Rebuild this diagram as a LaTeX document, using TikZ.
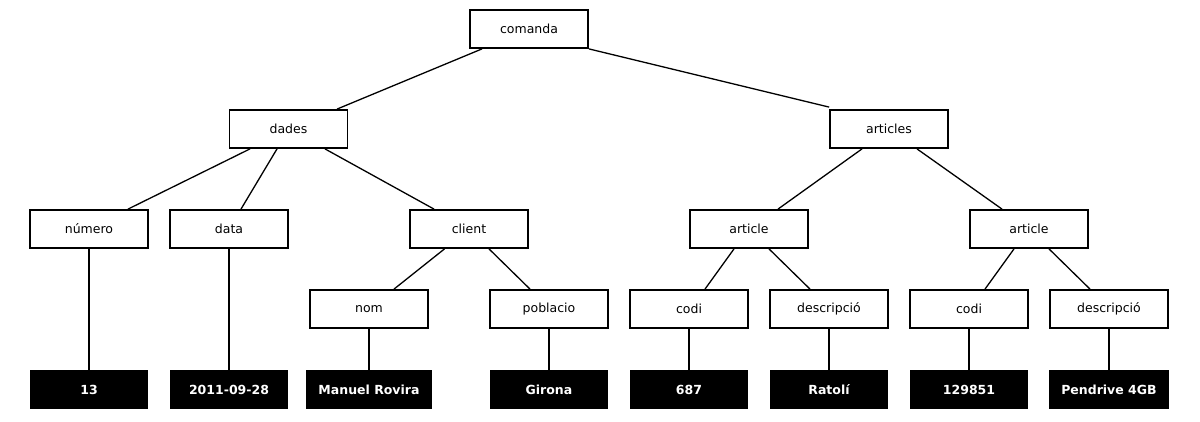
\documentclass[tikz,border=0pt]{standalone}
\usepackage{fontspec}
\setmainfont{DejaVu Sans}
\begin{document}
\begin{tikzpicture}[x=1pt,y=-1pt,
  elem/.style={draw=black,line width=1.8pt,fill=white,minimum width=118pt,minimum height=38pt,inner sep=0pt,font=\fontsize{12.5}{14}\selectfont},
  val/.style={fill=black,text=white,minimum width=118pt,minimum height=39pt,inner xsep=12.5pt,inner ysep=4pt,font=\bfseries\fontsize{12.5}{14}\selectfont},
  edge/.style={line width=1.3pt}]
\useasboundingbox (0,0) rectangle (1200,422);
% nodes
\node[elem] (comanda) at (529,29) {comanda};
\node[elem] (dades) at (288.5,129) {dades};
\node[elem] (articles) at (889,129) {articles};
\node[elem] (numero) at (89,229) {número};
\node[elem] (data) at (229,229) {data};
\node[elem] (client) at (469,229) {client};
\node[elem] (articleA) at (749,229) {article};
\node[elem] (articleB) at (1029,229) {article};
\node[elem] (nom) at (369,309) {nom};
\node[elem] (poblacio) at (549,309) {poblacio};
\node[elem] (codiA) at (689,309) {codi};
\node[elem] (descA) at (829,309) {descripció};
\node[elem] (codiB) at (969,309) {codi};
\node[elem] (descB) at (1109,309) {descripció};
\node[val] (v13) at (89,389.5) {13};
\node[val] (vdata) at (229,389.5) {2011-09-28};
\node[val] (vnom) at (369,389.5) {Manuel Rovira};
\node[val] (vpob) at (549,389.5) {Girona};
\node[val] (vcodiA) at (689,389.5) {687};
\node[val] (vdescA) at (829,389.5) {Ratolí};
\node[val] (vcodiB) at (969,389.5) {129851};
\node[val] (vdescB) at (1109,389.5) {Pendrive 4GB};
% edges
\draw[edge] ([xshift=-47pt]comanda.south) -- ([xshift=48.5pt]dades.north);
\draw[edge] (comanda.south east) -- ([yshift=2pt]articles.north west);
\draw[edge] ([xshift=-38.5pt]dades.south) -- ([xshift=39pt]numero.north);
\draw[edge] ([xshift=-11.5pt]dades.south) -- ([xshift=12pt]data.north);
\draw[edge] ([xshift=36.5pt]dades.south) -- ([xshift=-35pt]client.north);
\draw[edge] ([xshift=-27pt]articles.south) -- ([xshift=29pt]articleA.north);
\draw[edge] ([xshift=28pt]articles.south) -- ([xshift=-27pt]articleB.north);
\draw[edge] ([xshift=-24.5pt]client.south) -- ([xshift=25pt]nom.north);
\draw[edge] ([xshift=20pt]client.south) -- ([xshift=-19pt]poblacio.north);
\draw[edge] ([xshift=-15pt]articleA.south) -- ([xshift=16pt]codiA.north);
\draw[edge] ([xshift=20pt]articleA.south) -- ([xshift=-19pt]descA.north);
\draw[edge] ([xshift=-15pt]articleB.south) -- ([xshift=16pt]codiB.north);
\draw[edge] ([xshift=20pt]articleB.south) -- ([xshift=-19pt]descB.north);
\draw[edge] (numero.south) -- (v13.north);
\draw[edge] (data.south) -- (vdata.north);
\draw[edge] (nom.south) -- (vnom.north);
\draw[edge] (poblacio.south) -- (vpob.north);
\draw[edge] (codiA.south) -- (vcodiA.north);
\draw[edge] (descA.south) -- (vdescA.north);
\draw[edge] (codiB.south) -- (vcodiB.north);
\draw[edge] (descB.south) -- (vdescB.north);
\end{tikzpicture}
\end{document}
